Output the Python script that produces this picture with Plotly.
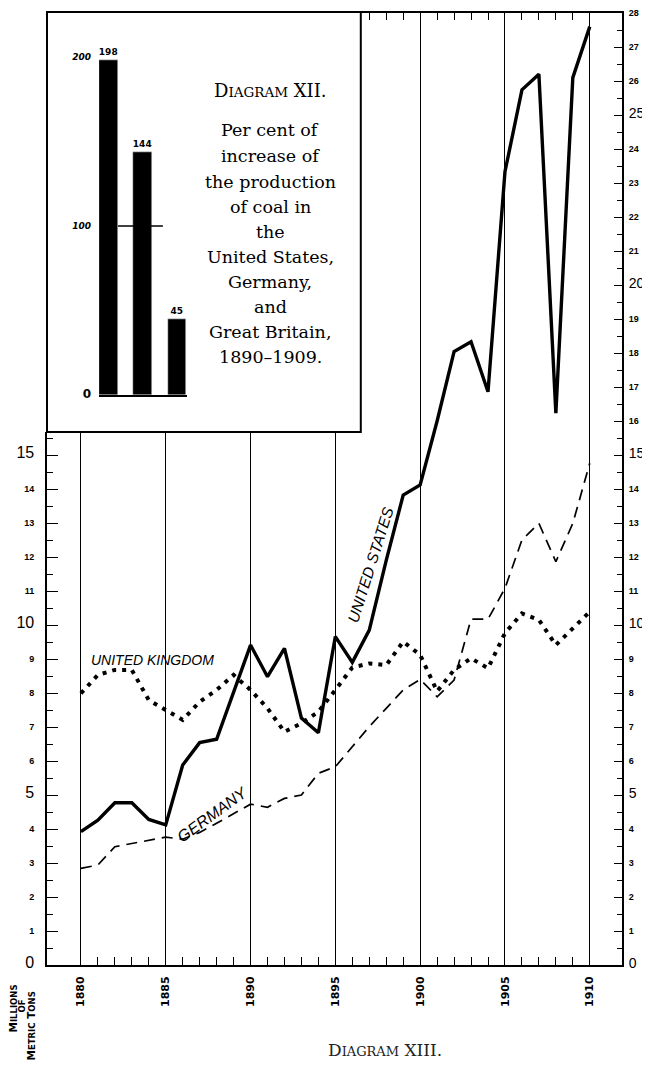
import plotly.graph_objects as go

# ---------------- data ----------------
YEARS = list(range(1880, 1911))
US = [3.92, 4.26, 4.77, 4.77, 4.28, 4.12, 5.88, 6.54, 6.64, 8.0,
      9.41, 8.48, 9.31, 7.26, 6.83, 9.66, 8.90, 9.85, 11.9, 13.82,
      14.12, 16.0, 18.04, 18.33, 16.86, 23.33, 25.74, 26.2, 16.23, 26.1, 27.6]
UK = [7.99, 8.53, 8.68, 8.68, 7.79, 7.50, 7.21, 7.74, 8.09, 8.53,
      8.09, 7.55, 6.86, 7.11, 7.45, 8.09, 8.75, 8.87, 8.82, 9.51,
      9.12, 8.05, 8.68, 9.02, 8.73, 9.76, 10.34, 10.15, 9.41, 9.90, 10.39]
DE = [2.84, 2.94, 3.48, 3.58, 3.66, 3.76, 3.70, 3.90, 4.17, 4.46,
      4.73, 4.64, 4.90, 5.00, 5.64, 5.83, 6.42, 7.01, 7.55, 8.09,
      8.40, 7.89, 8.38, 10.17, 10.17, 11.08, 12.5, 12.99, 11.86, 12.99, 14.76]

INSET_COUNTRIES = ["United States", "Germany", "Great Britain"]
INSET_PCT = [198, 144, 45]
INSET_TICKS = [0, 100, 200]
INSET_REF = 100

MAJOR_YEARS = [1880, 1885, 1890, 1895, 1900, 1905, 1910]
TEXT_LINES = ["Per cent of", "increase of", "the production", "of coal in", "the",
              "United States,", "Germany,", "and", "Great Britain,", "1890\u20131909."]

# ---------------- geometry (page pixels; the page body has an 8px margin) ----------------
OFF = 8
W, H = 650 - OFF, 1079 - 2 * OFF
PL, PR, PT, PB = 47, 622, 13, 965          # plot box in page pixels
ML, MT = PL - OFF, PT - OFF
MR = W - (PR - OFF)
MB = H - (PB - OFF)
PW = W - ML - MR
PH = H - MT - MB
X0, X1 = 1878.0, 1911.9
Y_MAX = 28.0
BOX_Y = 15.68     # bottom of inset box (value units)
BOX_X = 1896.5    # right edge of inset box (year units)
BOX_YF = BOX_Y / Y_MAX
BOX_XF = (BOX_X - X0) / (X1 - X0)


def px_x(p):
    return (p - PL) / PW


def px_y(p):
    return (PB - p) / PH


def ylab(v, size):
    if v % 5 == 0:
        return '<span style="font-size:%dpx;font-weight:normal">%d</span>' % (size, v)
    return str(v)


tickfont = dict(family="Liberation Sans", size=9, color="black", weight="bold")

fig = go.Figure()

series = [
    ("United States", US, dict(color="black", width=3.4)),
    ("United Kingdom", UK, dict(color="black", width=4, dash="4px,6px")),
    ("Germany", DE, dict(color="black", width=1.7, dash="11px,7px")),
]
for xa, ya in [("x", "y"), ("x2", "y3")]:
    for name, vals, ln in series:
        fig.add_trace(go.Scatter(x=YEARS, y=vals, mode="lines", line=ln, name=name,
                                 xaxis=xa, yaxis=ya, showlegend=False, hoverinfo="skip"))
# keeps the right-hand lower axis alive
fig.add_trace(go.Scatter(x=[], y=[], xaxis="x", yaxis="y2", showlegend=False))

# inset bar chart
fig.add_trace(go.Bar(x=[1, 2, 3], y=INSET_PCT, width=0.55, marker_color="black",
                     text=[str(v) for v in INSET_PCT], textposition="outside",
                     textfont=dict(family="DejaVu Sans", size=9, color="black", weight="bold"),
                     cliponaxis=False, xaxis="x3", yaxis="y4", showlegend=False,
                     hovertext=INSET_COUNTRIES))
fig.add_trace(go.Scatter(x=[1.28, 2.59], y=[INSET_REF, INSET_REF], mode="lines",
                         line=dict(color="black", width=1.5), xaxis="x3", yaxis="y4",
                         showlegend=False, hoverinfo="skip"))

minor_years_all = [y for y in YEARS if y % 5 != 0]
common_grid = dict(showgrid=True, gridcolor="black", gridwidth=1.4, zeroline=False,
                   automargin=False)
right_common = dict(ticks="inside", ticklen=8, tickwidth=1.3, tickcolor="black",
                    showline=True, linecolor="black", linewidth=2, showgrid=False,
                    zeroline=False, tickfont=tickfont, ticklabelstandoff=3,
                    automargin=False, side="right", tickmode="array")

fig.update_layout(
    width=W, height=H, margin=dict(l=ML, r=MR, t=MT, b=MB, autoexpand=False),
    paper_bgcolor="white", plot_bgcolor="rgba(0,0,0,0)",
    showlegend=False, bargap=0,
    xaxis=dict(domain=[0, 1], range=[X0, X1], anchor="y", tickmode="array",
               tickvals=MAJOR_YEARS, ticktext=[str(v) for v in MAJOR_YEARS],
               tickangle=-90, ticks="inside", ticklen=8, tickcolor="black", tickwidth=1.4,
               showline=True, linecolor="black", linewidth=2,
               tickfont=dict(family="DejaVu Sans", size=11, color="black", weight="bold"),
               ticklabelstandoff=5,
               minor=dict(tickmode="array", tickvals=minor_years_all, ticks="inside",
                          ticklen=8, tickwidth=1.2, tickcolor="black", showgrid=False),
               **common_grid),
    yaxis=dict(domain=[0, BOX_YF], range=[0, BOX_Y], anchor="x", side="left",
               tickmode="array", tickvals=list(range(16)),
               ticktext=[ylab(v, 16) for v in range(16)], ticks="inside", ticklen=11,
               tickwidth=1.3, tickcolor="black", showline=True, linecolor="black",
               linewidth=2, showgrid=False, zeroline=False, tickfont=tickfont,
               ticklabelstandoff=9, automargin=False,
               minor=dict(tickmode="array", tickvals=[v + 0.5 for v in range(16)],
                          ticks="inside", ticklen=6, tickwidth=1.2, tickcolor="black")),
    yaxis2=dict(overlaying="y", range=[0, BOX_Y], anchor="x",
                tickvals=list(range(16)), ticktext=[ylab(v, 14) for v in range(16)],
                minor=dict(tickmode="array", tickvals=[v + 0.5 for v in range(16)],
                           ticks="inside", ticklen=5, tickwidth=1.2, tickcolor="black"),
                **right_common),
    xaxis2=dict(domain=[BOX_XF, 1], range=[BOX_X, X1], anchor="y3", side="top",
                tickmode="array", tickvals=[v for v in MAJOR_YEARS if v > BOX_X],
                showticklabels=False, ticks="inside", ticklen=7, tickcolor="black",
                showline=True, linecolor="black", linewidth=2,
                minor=dict(tickmode="array",
                           tickvals=[y for y in minor_years_all if y > BOX_X],
                           ticks="inside", ticklen=7, tickwidth=1.2, tickcolor="black",
                           showgrid=False),
                **common_grid),
    yaxis3=dict(domain=[BOX_YF, 1], range=[BOX_Y, Y_MAX], anchor="x2",
                tickvals=list(range(16, 29)), ticktext=[ylab(v, 14) for v in range(16, 29)],
                minor=dict(tickmode="array", tickvals=[v + 0.5 for v in range(15, 28)],
                           ticks="inside", ticklen=5, tickwidth=1.2, tickcolor="black"),
                **right_common),
    xaxis3=dict(domain=[px_x(99), px_x(187)], range=[0.722, 3.295], anchor="y4",
                showline=True, linecolor="black", linewidth=2, showticklabels=False,
                ticks="", showgrid=False, zeroline=False, automargin=False),
    yaxis4=dict(domain=[px_y(395), px_y(40.1)], range=[0, 210], anchor="x3",
                tickmode="array", tickvals=INSET_TICKS,
                ticktext=['<span style="font-size:12px">0</span>', "<i>100</i>", "<i>200</i>"],
                ticks="", showline=False, showgrid=False, zeroline=False,
                tickfont=dict(family="DejaVu Sans", size=9, color="black", weight="bold"),
                ticklabelstandoff=7, automargin=False),
)

# inset frame
fig.add_shape(type="rect", xref="paper", yref="paper", x0=0, x1=BOX_XF, y0=BOX_YF, y1=1.001,
              line=dict(color="black", width=2), fillcolor="rgba(0,0,0,0)", layer="above")

serif = "DejaVu Serif"
ann = []
ann.append(dict(x=px_x(270), y=px_y(90),
                text='D<span style="font-size:13.5px">IAGRAM</span> XII.',
                font=dict(family=serif, size=18, color="black")))
ys = [130, 156, 182, 207, 232, 257, 282, 307, 332, 357]
for t, yy in zip(TEXT_LINES, ys):
    ann.append(dict(x=px_x(270), y=px_y(yy), text=t, font=dict(family=serif, size=17.5, color="black")))
ann.append(dict(x=px_x(385), y=px_y(1050),
                text='D<span style="font-size:13px">IAGRAM</span> XIII.',
                font=dict(family=serif, size=17, color="#222")))

label_font = dict(family="Liberation Sans", size=14, color="black", style="italic")
ann.append(dict(x=px_x(152), y=px_y(660), text="UNITED KINGDOM", font=label_font))
ann.append(dict(x=px_x(371), y=px_y(565), text="UNITED STATES", textangle=-72.5,
                font=dict(family="Liberation Sans", size=15.5, color="black", style="italic")))
ann.append(dict(x=px_x(212), y=px_y(814), text="GERMANY", textangle=-36,
                font=dict(family="Liberation Sans", size=16, color="black", style="italic")))

small = '<span style="font-size:8.5px">{}</span>'
unit_lines = [(12.5, 1009, "M" + small.format("ILLIONS")),
              (21.5, 1006, small.format("OF")),
              (30.5, 1026, "M" + small.format("ETRIC") + " T" + small.format("ONS"))]
for xx, yy, t in unit_lines:
    ann.append(dict(x=px_x(xx), y=px_y(yy), text=t, textangle=-90,
                    font=dict(family="DejaVu Sans", size=10.5, color="black", weight="bold")))

for a in ann:
    a.update(xref="paper", yref="paper", showarrow=False, xanchor="center", yanchor="middle")
    fig.add_annotation(**a)

fig.write_html("out.html")
